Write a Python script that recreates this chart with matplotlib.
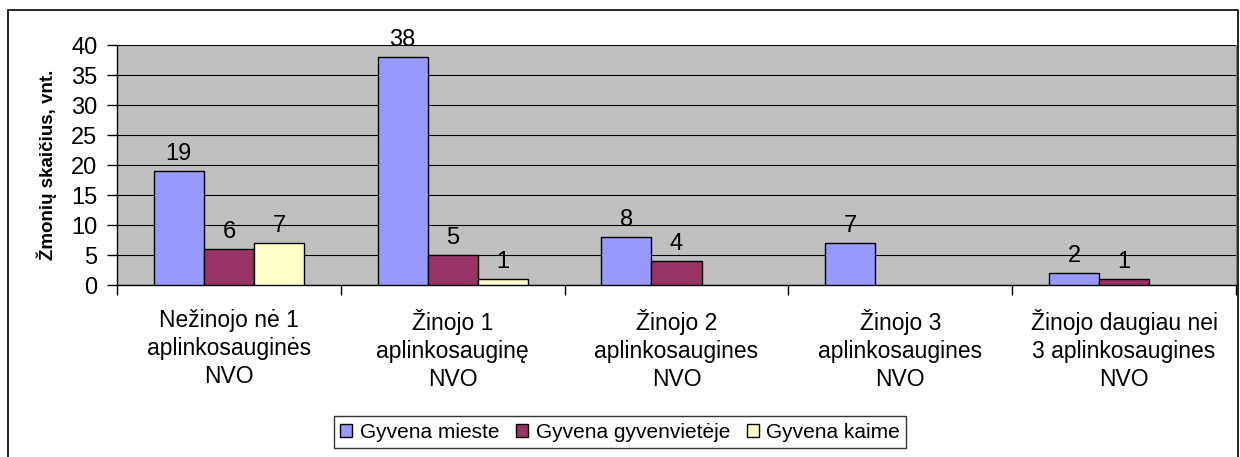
import matplotlib
matplotlib.use("Agg")
import matplotlib.pyplot as plt
from matplotlib.patches import Rectangle
import numpy as np

plt.rcParams['font.family'] = ['Liberation Sans', 'DejaVu Sans']

categories = ["Nežinojo nė 1\naplinkosauginės\nNVO",
              "Žinojo 1\naplinkosauginę\nNVO",
              "Žinojo 2\naplinkosaugines\nNVO",
              "Žinojo 3\naplinkosaugines\nNVO",
              "Žinojo daugiau nei\n3 aplinkosaugines\nNVO"]
series_names = ["Gyvena mieste", "Gyvena gyvenvietėje", "Gyvena kaime"]
mieste = [19, 38, 8, 7, 2]
gyvenvieteje = [6, 5, 4, 0, 1]
kaime = [7, 1, 0, 0, 0]
colors = ["#9999FF", "#993366", "#FFFFCC"]
yticks = [0, 5, 10, 15, 20, 25, 30, 35, 40]

W, H = 1240, 457
fig = plt.figure(figsize=(W/100, H/100), dpi=100)
ax = fig.add_axes([117/W, 1-285/H, (1236-117)/W, (285-45)/H])
ax.set_facecolor("#C0C0C0")

x = np.arange(len(categories))
bw = 0.224
data = [mieste, gyvenvieteje, kaime]
for i, (vals, c, name) in enumerate(zip(data, colors, series_names)):
    pos = x + (i - 1) * bw
    vis = [v for v in vals]
    ax.bar(pos, vals, bw, color=c, edgecolor=["black" if v > 0 else "none" for v in vals],
           linewidth=1, label=name, zorder=3)
    for p, v in zip(pos, vals):
        if v > 0:
            ax.text(p, v + 1.0, str(v), ha="center", va="bottom", fontsize=17, zorder=4)

ax.set_xlim(-0.5, len(categories) - 0.5)
ax.set_ylim(0, 40)
ax.set_yticks(yticks)
ax.tick_params(axis="y", labelsize=17, length=7, width=1, direction="out", pad=7)
ax.yaxis.grid(True, color="black", linewidth=0.8, zorder=0)
ax.set_axisbelow(True)

ax.set_xticks(x)
ax.set_xticklabels(categories, fontsize=16.5, linespacing=1.3)
ax.tick_params(axis="x", which="major", length=0, pad=17)
ax.set_xticks(np.arange(-0.5, len(categories)), minor=True)
ax.tick_params(axis="x", which="minor", length=7, width=1, direction="out")

for s in ["left", "bottom"]:
    ax.spines[s].set_color("black")
    ax.spines[s].set_linewidth(1)
ax.spines["right"].set_color("#808080")
ax.spines["top"].set_visible(False)

ax.set_ylabel("Žmonių skaičius, vnt.", fontsize=13.5, fontweight="bold", labelpad=10)

leg = fig.legend(loc="center", bbox_to_anchor=(620/W, 1-432/H), ncol=3, fontsize=15,
                 frameon=True, fancybox=False, edgecolor="black", handlelength=0.6,
                 handleheight=0.6, handletextpad=0.35, columnspacing=0.8, borderpad=0.3)
leg.get_frame().set_linewidth(1)

fig.patches.append(Rectangle((8/W, -0.01), (1238-8)/W, 1 - 10/H + 0.01, transform=fig.transFigure,
                             fill=False, edgecolor="black", linewidth=1.2))

fig.savefig("out.png", dpi=100)
